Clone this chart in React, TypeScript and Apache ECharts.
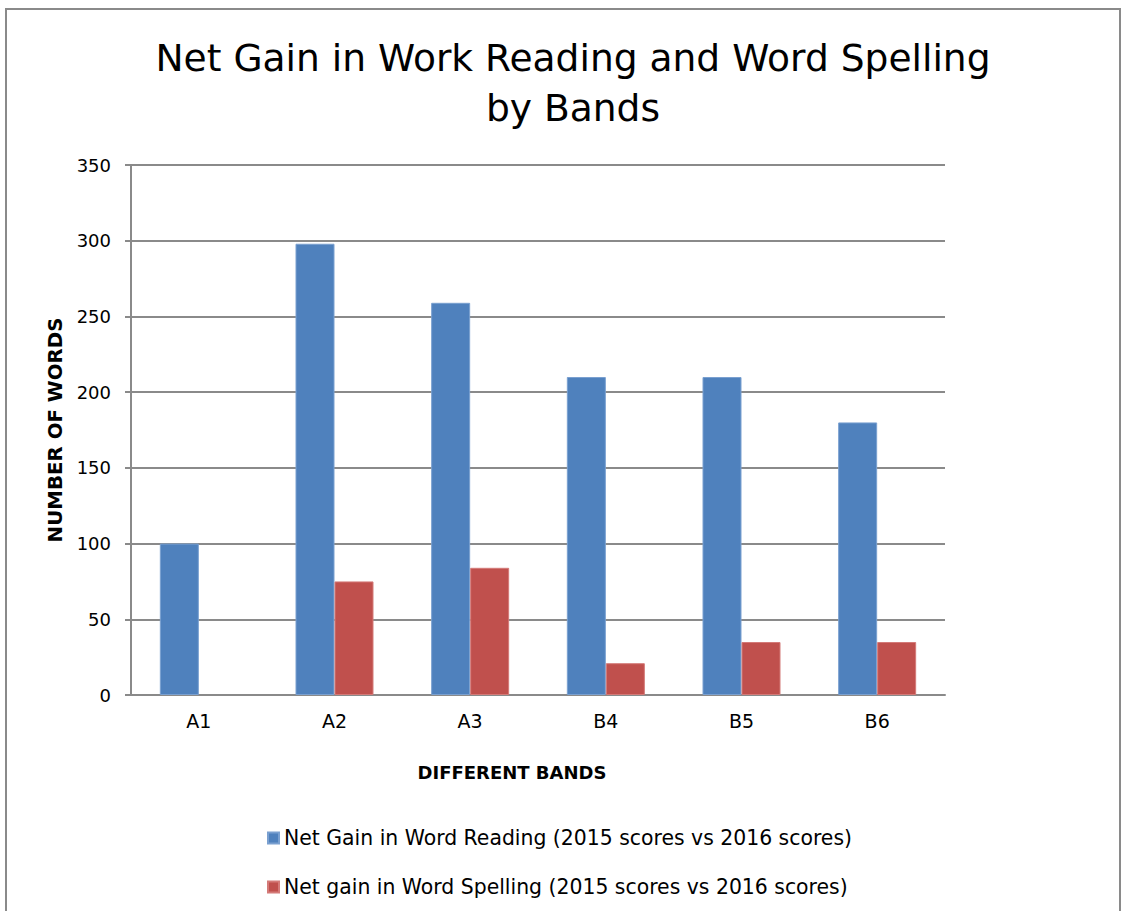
import React, { useEffect, useRef } from "react";
import * as echarts from "echarts";

const categories = ["A1", "A2", "A3", "B4", "B5", "B6"];
const readingGain = [100, 298, 259, 210, 210, 180];
const spellingGain = [null, 75, 84, 21, 35, 35];
const seriesNames = [
  "Net Gain in Word Reading (2015 scores vs 2016 scores)",
  "Net gain in Word Spelling (2015 scores vs 2016 scores)",
];
const titleText = "Net Gain in Work Reading and Word Spelling\nby Bands";
const yAxisTitle = "NUMBER OF WORDS";
const xAxisTitle = "DIFFERENT BANDS";

const FONT = "'DejaVu Sans', sans-serif";

export default function App() {
  const ref = useRef<HTMLDivElement>(null);
  useEffect(() => {
    if (!ref.current) return;
    const chart = echarts.init(ref.current, undefined, { renderer: "svg" });
    chart.setOption({
      animation: false,
      backgroundColor: "#ffffff",
      textStyle: { fontFamily: FONT },
      title: {
        text: titleText,
        left: 568,
        textAlign: "center",
        top: 28,
        textStyle: {
          fontFamily: FONT,
          fontSize: 37.6,
          fontWeight: "normal",
          color: "#000000",
          lineHeight: 50,
        },
      },
      graphic: [
        {
          type: "rect",
          shape: { x: 6, y: 9, width: 1114, height: 940 },
          style: { fill: "none", stroke: "#8a8a8a", lineWidth: 2 },
          silent: true,
        },
        {
          type: "text",
          x: 512,
          y: 772,
          style: {
            text: xAxisTitle,
            fontFamily: FONT,
            fontSize: 18,
            fontWeight: "bold",
            fill: "#000",
            align: "center",
            verticalAlign: "middle",
          },
        },
        {
          type: "text",
          x: 55,
          y: 430,
          rotation: Math.PI / 2,
          style: {
            text: yAxisTitle,
            fontFamily: FONT,
            fontSize: 19.8,
            fontWeight: "bold",
            fill: "#000",
            align: "center",
            verticalAlign: "middle",
          },
        },
      ],
      legend: {
        orient: "vertical",
        left: 262,
        top: 823,
        itemWidth: 11,
        itemHeight: 11,
        itemGap: 29,
        icon: "rect",
        textStyle: { fontFamily: FONT, fontSize: 20.4, color: "#000" },
        data: seriesNames,
      },
      grid: { left: 131, right: 178, top: 165, bottom: 216 },
      xAxis: {
        type: "category",
        data: categories,
        axisLine: { show: true, lineStyle: { color: "#8a8a8a", width: 2 } },
        axisTick: { show: false },
        axisLabel: { fontFamily: FONT, fontSize: 19, color: "#000", margin: 16 },
      },
      yAxis: {
        type: "value",
        min: 0,
        max: 350,
        interval: 50,
        axisLine: { show: true, lineStyle: { color: "#8a8a8a", width: 2 } },
        axisTick: { show: true, length: 6, lineStyle: { color: "#8a8a8a", width: 2 } },
        splitLine: { show: true, lineStyle: { color: "#8a8a8a", width: 2 } },
        axisLabel: { fontFamily: FONT, fontSize: 18, color: "#000", margin: 20 },
      },
      series: [
        {
          name: seriesNames[0],
          type: "bar",
          data: readingGain,
          barWidth: 39,
          barGap: "0%",
          itemStyle: { color: "#4F81BD", borderColor: "#7aa0d0", borderWidth: 1 },
        },
        {
          name: seriesNames[1],
          type: "bar",
          data: spellingGain,
          barWidth: 39,
          barGap: "0%",
          itemStyle: { color: "#C0504D", borderColor: "#d47a78", borderWidth: 1 },
        },
      ],
    });
    return () => chart.dispose();
  }, []);
  return (
    <div
      ref={ref}
      style={{ position: "fixed", left: 0, top: 0, width: 1123, height: 911 }}
    />
  );
}
